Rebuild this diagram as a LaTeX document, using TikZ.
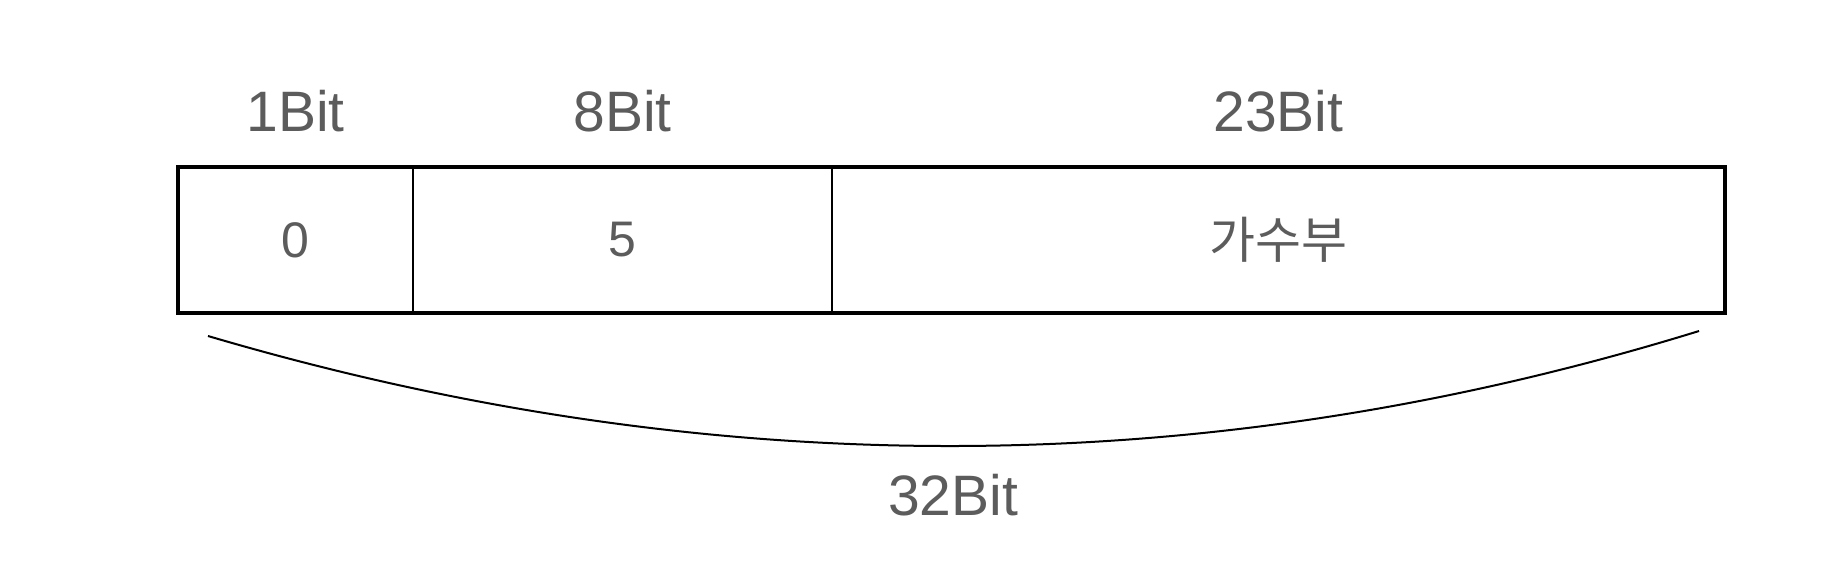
\documentclass[tikz,border=0pt]{standalone}
\usepackage{fontspec}
\setmainfont{Liberation Sans}
\newfontfamily\kofont{Noto Sans CJK KR}
\usetikzlibrary{positioning,calc}
\definecolor{labelgray}{HTML}{5c5c5c}

\begin{document}
\begin{tikzpicture}[x=0.5pt, y=-0.5pt, node distance=0pt]
\tikzset{
	    field/.style={rectangle, draw=black, line width=1pt, minimum height=73pt, inner sep=0pt, outer sep=0pt, text=labelgray, font=\fontsize{25}{29}\selectfont},
	    bitlabel/.style={text=labelgray, font=\fontsize{28.5}{32}\selectfont, inner sep=0pt},
	    span/.style={line width=1pt}
	}
	\useasboundingbox (0,0) rectangle (1830,578);

	\node[field, minimum width=117.5pt, anchor=north west] (sign) at (178,167) {0};
	\node[field, minimum width=209.5pt, right=0pt of sign] (exponent) {5};
	\node[field, minimum width=446.5pt, right=0pt of exponent] (mantissa) {\kofont 가수부};
	\draw[line width=2pt] (sign.north west) rectangle (mantissa.south east);

	\node[bitlabel, above=18pt of sign, anchor=base] (signbits) {1Bit};
	\node[bitlabel, above=18pt of exponent, anchor=base] (expbits) {8Bit};
	\node[bitlabel, above=18pt of mantissa, anchor=base] (manbits) {23Bit};

	% total width
	\coordinate (arcL) at (208,336);
	\coordinate (arcR) at (1699,331);
	\draw[span] (arcL) .. controls (710,484) and (1207,483) .. (arcR);
	\node[bitlabel, anchor=base] (total) at (953,515) {32Bit};
\end{tikzpicture}
\end{document}
